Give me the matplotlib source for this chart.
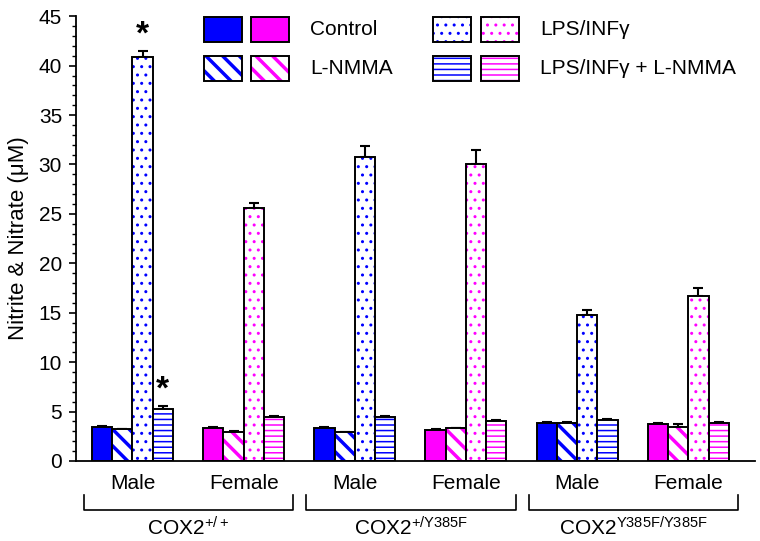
import numpy as np
import matplotlib as mpl
import matplotlib.pyplot as plt
from matplotlib.patches import Rectangle
from matplotlib.transforms import blended_transform_factory

mpl.rcParams.update({
    'font.family': ['Liberation Sans', 'DejaVu Sans'],
    'mathtext.default': 'regular',
    'figure.facecolor': 'white',
    'axes.facecolor': 'white',
})

# ---- data -------------------------------------------------------------
SEX_LABELS = ['Male', 'Female', 'Male', 'Female', 'Male', 'Female']
GENOTYPES = ['COX2$^{+/+}$', 'COX2$^{+/Y385F}$', 'COX2$^{Y385F/Y385F}$']
TREATMENTS = ['Control', 'L-NMMA', 'LPS/INFγ', 'LPS/INFγ + L-NMMA']

control = [3.47, 3.30, 3.30, 3.13, 3.87, 3.70]
lnmma = [3.20, 2.97, 2.90, 3.30, 3.87, 3.40]
lps = [40.85, 25.60, 30.80, 30.00, 14.80, 16.70]
lps_lnmma = [5.22, 4.42, 4.42, 4.07, 4.15, 3.87]

control_err = [0.10, 0.10, 0.10, 0.08, 0.10, 0.10]
lnmma_err = [0.08, 0.08, 0.06, 0.06, 0.08, 0.30]
lps_err = [0.65, 0.50, 1.10, 1.50, 0.50, 0.80]
lps_lnmma_err = [0.35, 0.10, 0.12, 0.10, 0.10, 0.10]

# significance stars: (group, treatment)
STARS = [(0, 2), (0, 3)]

# ---- style ------------------------------------------------------------
BLUE = '#0000ff'
MAGENTA = '#ff00ff'
GROUP_COLORS = [BLUE, MAGENTA] * 3
HATCHES = [None, '\\\\', '..', '---']
HATCH_LW = [0, 2.5, 1.0, 1.1]

BAR_W = 1.0
GROUP_STEP = 5.49
FS = 15

values = np.array([control, lnmma, lps, lps_lnmma])
errors = np.array([control_err, lnmma_err, lps_err, lps_lnmma_err])


def with_hatch_lw(patch, lw):
    # hatch linewidth is global in some versions -> set it around the draw
    if hasattr(patch, 'set_hatch_linewidth'):
        patch.set_hatch_linewidth(lw)
    orig = patch.draw

    def draw(renderer, _orig=orig, _lw=lw):
        with mpl.rc_context({'hatch.linewidth': _lw}):
            _orig(renderer)
    patch.draw = draw
    return patch


def hatched_bar(ax, x, h, color, hatch, hlw, **kw):
    """solid bar or white bar with coloured hatch, black outline on top"""
    if hatch is None:
        ax.bar(x, h, BAR_W, color=color, edgecolor='none', lw=0, **kw)
    else:
        with plt.rc_context({'hatch.linewidth': hlw}):
            bars = ax.bar(x, h, BAR_W, color='white', edgecolor=color,
                          hatch=hatch, lw=0, **kw)
        for b in bars:
            with_hatch_lw(b, hlw)
    ax.bar(x, h, BAR_W, color='none', edgecolor='black', lw=1.4, **kw)


def swatch(ax, x, y, w, h, color, hatch, hlw):
    if hatch is None:
        r = Rectangle((x, y), w, h, facecolor=color, edgecolor='none',
                      transform=ax.transAxes, clip_on=False)
    else:
        with plt.rc_context({'hatch.linewidth': hlw}):
            r = Rectangle((x, y), w, h, facecolor='white', edgecolor=color,
                          hatch=hatch, lw=0, transform=ax.transAxes,
                          clip_on=False)
        with_hatch_lw(r, hlw)
    ax.add_patch(r)
    ax.add_patch(Rectangle((x, y), w, h, facecolor='none', edgecolor='black',
                           lw=1.4, transform=ax.transAxes, clip_on=False))


fig = plt.figure(figsize=(7.6, 5.41), dpi=100)
ax = fig.add_axes([0.100, 0.148, 0.893, 0.822])

group_left = np.arange(6) * GROUP_STEP
for t in range(4):
    x = group_left + t * BAR_W + BAR_W / 2
    for g in range(6):
        hatched_bar(ax, [x[g]], [values[t, g]], GROUP_COLORS[g], HATCHES[t],
                    HATCH_LW[t], zorder=2)
    ax.errorbar(x, values[t], yerr=[np.zeros(6), errors[t]], fmt='none',
                ecolor='black', elinewidth=1.5, capsize=3.5, capthick=1.5,
                zorder=1)

for g, t in STARS:
    xs = group_left[g] + t * BAR_W + BAR_W / 2
    ax.text(xs, values[t, g] + errors[t, g] + 1.6, '*', ha='center',
            va='center', fontsize=24, fontweight='bold')

ax.set_xlim(-0.79, group_left[-1] + 4 * BAR_W + 1.28)
ax.set_ylim(0, 45)
ax.set_yticks(np.arange(0, 46, 5))
ax.set_yticks(np.arange(0, 46, 1), minor=True)
ax.tick_params(axis='y', which='major', length=5, width=1.2,
               labelsize=FS, direction='out', pad=5)
ax.tick_params(axis='y', which='minor', length=3, width=1.0)
ax.set_xticks([])
for s in ['top', 'right']:
    ax.spines[s].set_visible(False)
ax.spines['left'].set_linewidth(1.3)
ax.spines['bottom'].set_linewidth(1.3)
ax.set_ylabel('Nitrite & Nitrate (μM)', fontsize=FS + 1, labelpad=7)

# category labels and brackets under the axis
trans = blended_transform_factory(ax.transData, ax.transAxes)
for g, lab in enumerate(SEX_LABELS):
    ax.text(group_left[g] + 2 * BAR_W, -0.050, lab, transform=trans,
            ha='center', va='center', fontsize=FS)

for k, gen in enumerate(GENOTYPES):
    x0 = group_left[2 * k] - 0.4
    x1 = group_left[2 * k + 1] + 4 * BAR_W + 0.45
    ax.plot([x0, x0, x1, x1], [-0.077, -0.110, -0.110, -0.077],
            transform=trans, color='black', lw=1.2, clip_on=False)
    ax.text((x0 + x1) / 2, -0.150, gen, transform=trans, ha='center',
            va='center', fontsize=FS)

# legend drawn by hand: two swatches (male / female colour) per treatment
SW_W, SW_H = 0.056, 0.056
col_x = [(0.1885, 0.2577, 0.3446), (0.5258, 0.5965, 0.6834)]
row_y = [0.9416, 0.854]
for t, name in enumerate(TREATMENTS):
    c, r = divmod(t, 2)
    xa, xb, xt = col_x[c]
    y = row_y[r]
    swatch(ax, xa, y, SW_W, SW_H, BLUE, HATCHES[t], HATCH_LW[t])
    swatch(ax, xb, y, SW_W, SW_H, MAGENTA, HATCHES[t], HATCH_LW[t])
    ax.text(xt, y + SW_H / 2, name, transform=ax.transAxes, ha='left',
            va='center', fontsize=FS)

fig.savefig('out.png', dpi=100)
